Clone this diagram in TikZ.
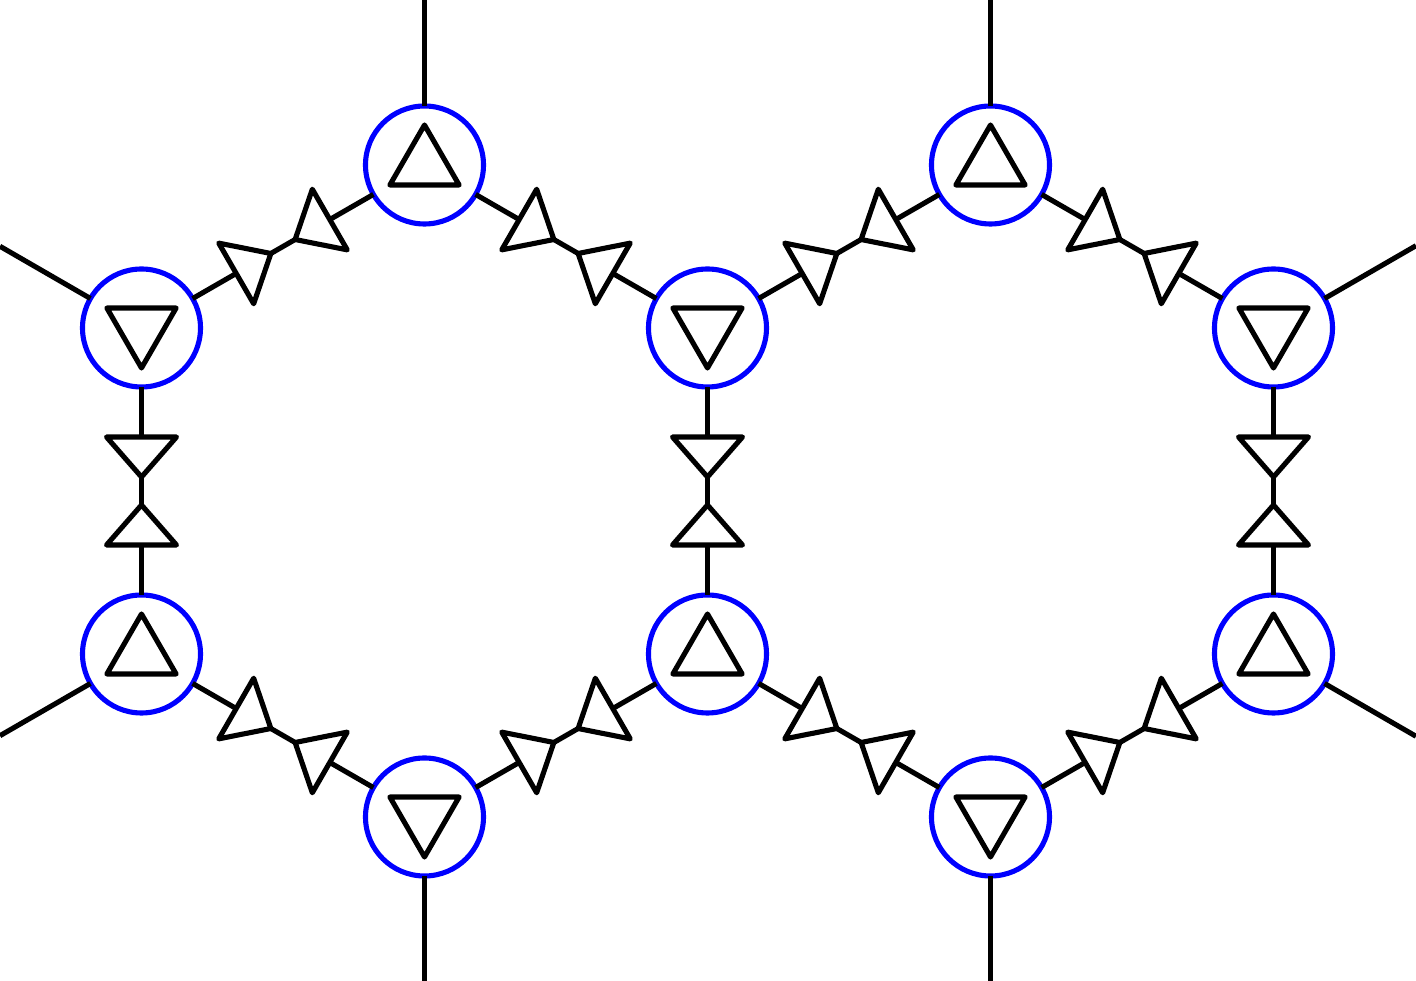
\documentclass[tikz,border=0pt]{standalone}
\usetikzlibrary{calc}

% two triangles on a link, tips towards the middle
\newcommand\linktri[2]{%
  \draw (#1) -- (#2);
  \coordinate (mid) at ($(#1)!0.5!(#2)$);
  \foreach \e in {#1,#2}{
    \coordinate (tbase) at ($(mid)!0.54cm!(\e)$);
    \filldraw[fill=white] ($(mid)!0.14cm!(\e)$) -- ($(tbase)!0.35cm!90:(mid)$)
      -- ($(tbase)!0.35cm!-90:(mid)$) -- cycle;
  }
}
% triangle inside a site
\newcommand\sitetri[2]{%
  \draw[shift={(#1)}] (#2:0.4) -- (#2+120:0.4) -- (#2+240:0.4) -- cycle;
}

\begin{document}
\begin{tikzpicture}[inner sep=0pt,outer sep=0pt,line width=1.45pt,line join=round,
site/.style={draw=blue,circle,minimum size=1.18cm,line width=1.45pt}]
\useasboundingbox (0,0) rectangle (14.16,9.81);

\draw (4.245,8.16) node[site] (t1) {};
\draw (1.415,6.53) node[site] (ul1) {};
\draw (1.415,3.27) node[site] (ll1) {};
\draw (4.245,1.64) node[site] (b1) {};
\draw (7.075,3.27) node[site] (lr1) {};
\draw (7.075,6.53) node[site] (ur1) {};
\draw (9.905,8.16) node[site] (t2) {};
\draw (12.735,6.53) node[site] (ur2) {};
\draw (12.735,3.27) node[site] (lr2) {};
\draw (9.905,1.64) node[site] (b2) {};

\sitetri{t1}{90} \sitetri{ul1}{-90} \sitetri{ll1}{90} \sitetri{b1}{-90}
\sitetri{lr1}{90} \sitetri{ur1}{-90} \sitetri{t2}{90} \sitetri{ur2}{-90}
\sitetri{lr2}{90} \sitetri{b2}{-90}

% open legs
\coordinate (t1end) at (4.245,9.81);
\coordinate (ul1end) at (0,7.347);
\coordinate (ll1end) at (0,2.453);
\coordinate (b1end) at (4.245,0);
\coordinate (t2end) at (9.905,9.81);
\coordinate (ur2end) at (14.16,7.353);
\coordinate (lr2end) at (14.16,2.447);
\coordinate (b2end) at (9.905,0);
\draw (t1) -- (t1end);
\draw (ul1) -- (ul1end);
\draw (ll1) -- (ll1end);
\draw (b1) -- (b1end);
\draw (t2) -- (t2end);
\draw (ur2) -- (ur2end);
\draw (lr2) -- (lr2end);
\draw (b2) -- (b2end);

\linktri{t1}{ul1} \linktri{ul1}{ll1} \linktri{ll1}{b1}
\linktri{b1}{lr1} \linktri{lr1}{ur1} \linktri{ur1}{t1}
\linktri{ur1}{t2} \linktri{t2}{ur2} \linktri{ur2}{lr2}
\linktri{lr2}{b2} \linktri{b2}{lr1}
\end{tikzpicture}
\end{document}
